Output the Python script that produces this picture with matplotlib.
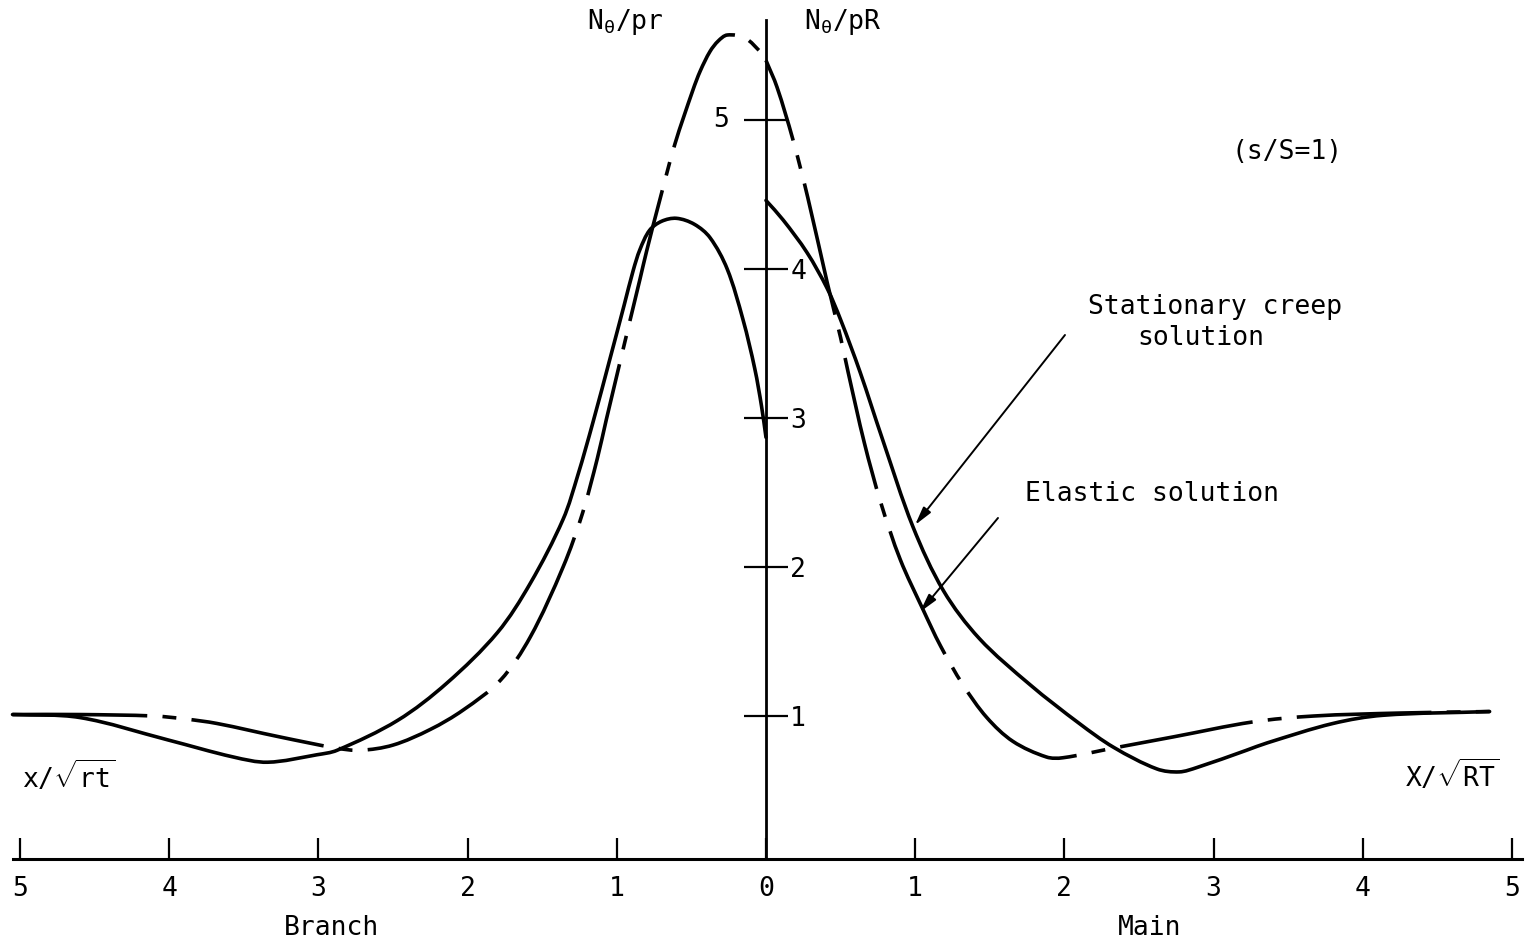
import numpy as np
import matplotlib
matplotlib.use('Agg')
import matplotlib.pyplot as plt
from matplotlib.path import Path
from matplotlib.patches import PathPatch

plt.rcParams['font.family'] = ['DejaVu Sans Mono', 'DejaVu Sans']
plt.rcParams['mathtext.fontset'] = 'custom'
plt.rcParams['mathtext.rm'] = 'DejaVu Sans Mono'
plt.rcParams['mathtext.it'] = 'DejaVu Sans Mono'
plt.rcParams['mathtext.bf'] = 'DejaVu Sans Mono:bold'
plt.rcParams['lines.scale_dashes'] = False

# Branch side: distance from the junction, x/sqrt(rt) (drawn to the left)
elastic_branch_d = [5.05, 4.60, 4.10, 3.89, 3.68, 3.26, 2.88, 2.72, 2.50, 2.25,
                    2.03, 1.78, 1.58, 1.36, 1.23, 1.13, 1.07, 0.91, 0.845, 0.80,
                    0.71, 0.61, 0.49, 0.44, 0.375, 0.32, 0.26, 0.14, 0.03, 0.0]
elastic_branch_n = [1.01, 1.01, 1.00, 0.98, 0.95, 0.86, 0.785, 0.77, 0.805, 0.91,
                    1.04, 1.24, 1.53, 2.00, 2.36, 2.73, 2.99, 3.66, 3.93, 4.12,
                    4.47, 4.84, 5.20, 5.33, 5.46, 5.53, 5.57, 5.55, 5.45, 5.42]

creep_branch_d = [5.05, 4.60, 4.01, 3.57, 3.34, 3.01, 2.875, 2.47, 2.14, 1.80,
                  1.58, 1.36, 1.26, 1.16, 1.045, 0.95, 0.89, 0.845, 0.78, 0.70,
                  0.60, 0.48, 0.375, 0.26, 0.154, 0.075, 0.03, 0.0]
creep_branch_n = [1.01, 0.99, 0.84, 0.725, 0.69, 0.74, 0.77, 0.97, 1.22, 1.56,
                  1.89, 2.32, 2.62, 2.97, 3.40, 3.76, 3.99, 4.13, 4.26, 4.32,
                  4.34, 4.30, 4.21, 4.00, 3.66, 3.33, 3.08, 2.87]

# Main side: X/sqrt(RT) (drawn to the right)
elastic_main_d = [0.0, 0.074, 0.18, 0.28, 0.41, 0.50, 0.55, 0.66, 0.77, 0.90,
                  1.05, 1.17, 1.32, 1.48, 1.655, 1.88, 1.99, 2.33, 2.73, 3.26,
                  3.67, 4.25, 4.85]
elastic_main_n = [5.40, 5.22, 4.87, 4.48, 3.91, 3.54, 3.31, 2.83, 2.43, 2.05,
                  1.72, 1.47, 1.21, 0.99, 0.83, 0.725, 0.72, 0.785, 0.86, 0.96,
                  1.00, 1.02, 1.03]

creep_main_d = [0.0, 0.114, 0.275, 0.41, 0.50, 0.63, 0.78, 0.985, 1.19, 1.43,
                1.77, 2.10, 2.33, 2.62, 2.77, 2.89, 3.22, 3.36, 3.80, 4.135, 4.85]
creep_main_n = [4.46, 4.33, 4.11, 3.87, 3.66, 3.31, 2.86, 2.27, 1.84, 1.52,
                1.21, 0.95, 0.79, 0.645, 0.625, 0.655, 0.77, 0.82, 0.95, 1.005, 1.03]

x_ticks = [-5, -4, -3, -2, -1, 0, 1, 2, 3, 4, 5]
y_ticks = [1, 2, 3, 4, 5]


def smooth_path(x, y):
    # cubic Bezier through the read points (chord-length tangents)
    p = np.column_stack([x, y]).astype(float)
    seg = np.hypot(*np.diff(p, axis=0).T)
    tan = np.zeros_like(p)
    tan[0] = (p[1] - p[0]) / seg[0]
    tan[-1] = (p[-1] - p[-2]) / seg[-1]
    tan[1:-1] = (p[2:] - p[:-2]) / (seg[:-1] + seg[1:])[:, None]
    verts = [p[0]]
    codes = [Path.MOVETO]
    for i in range(len(p) - 1):
        verts += [p[i] + tan[i] * seg[i] / 3, p[i + 1] - tan[i + 1] * seg[i] / 3, p[i + 1]]
        codes += [Path.CURVE4] * 3
    return Path(verts, codes)


def draw_curve(ax, x, y, ls='solid'):
    cap = 'round' if ls == 'solid' else 'butt'
    ax.add_patch(PathPatch(smooth_path(x, y), fill=False, edgecolor='black',
                           lw=2.6, linestyle=ls, capstyle=cap, joinstyle='round'))


fig = plt.figure(figsize=(15.36, 9.47), dpi=100)
ax = fig.add_axes([0, 0, 1, 1])
ax.set_xlim(-5.134, 5.161)
ax.set_ylim(-0.55, 5.805)

# axes drawn through the origin like the original sketch
ax.spines['top'].set_visible(False)
ax.spines['bottom'].set_position(('data', 0.04))
ax.spines['bottom'].set_bounds(-5.05, 5.07)
ax.spines['bottom'].set_linewidth(2.2)
ax.spines['left'].set_position(('data', 0))
ax.spines['left'].set_bounds(0.04, 5.67)
ax.spines['left'].set_linewidth(2.0)
ax.spines['right'].set_position(('data', 0))
ax.spines['right'].set_visible(False)

ax.set_xticks(x_ticks, labels=[str(abs(t)) for t in x_ticks])
ax.tick_params(axis='x', direction='in', length=15, width=1.6, pad=12,
               labelsize=19)
ax.set_yticks(y_ticks, labels=[str(t) if t < 5 else '' for t in y_ticks])
ax.tick_params(axis='y', direction='inout', length=32, width=1.6,
               left=True, right=False, labelleft=False, labelright=True,
               pad=1.5, labelsize=19)
ax.text(-0.30, 5.0, '5', ha='center', va='center', fontsize=19)

dash_pat = (97, 11, 10, 11)

# elastic solution (broken line)
draw_curve(ax, -np.array(elastic_branch_d), elastic_branch_n, ls=(0, dash_pat))
draw_curve(ax, elastic_main_d, elastic_main_n, ls=(36, dash_pat))

# stationary creep solution (solid)
draw_curve(ax, -np.array(creep_branch_d), creep_branch_n)
draw_curve(ax, creep_main_d, creep_main_n)

# labels
ax.text(-0.945, 5.66, r'N$_{\theta}$/pr', ha='center', va='center', fontsize=19)
ax.text(0.516, 5.66, r'N$_{\theta}$/pR', ha='center', va='center', fontsize=19)
ax.text(3.49, 4.785, '(s/S=1)', ha='center', va='center', fontsize=19)
ax.text(2.158, 3.745, 'Stationary creep', ha='left', va='center', fontsize=19)
ax.text(2.487, 3.537, 'solution', ha='left', va='center', fontsize=19)
ax.text(1.736, 2.49, 'Elastic solution', ha='left', va='center', fontsize=19)
ax.text(-4.987, 0.517, r'x/$\sqrt{\mathrm{rt}}$', ha='left', va='baseline',
        fontsize=19)
ax.text(4.283, 0.523, r'X/$\sqrt{\mathrm{RT}}$', ha='left', va='baseline',
        fontsize=19)
ax.text(-2.909, -0.423, 'Branch', ha='center', va='center', fontsize=19)
ax.text(2.574, -0.423, 'Main', ha='center', va='center', fontsize=19)

arrow_kw = dict(arrowstyle='-|>,head_length=1.1,head_width=0.28',
                color='black', lw=1.4, shrinkA=0, shrinkB=0)
ax.annotate('', xy=(0.999, 2.282), xytext=(2.004, 3.557), arrowprops=arrow_kw)
ax.annotate('', xy=(1.032, 1.698), xytext=(1.555, 2.329), arrowprops=arrow_kw)

fig.savefig('out.png', dpi=100, facecolor='white')
